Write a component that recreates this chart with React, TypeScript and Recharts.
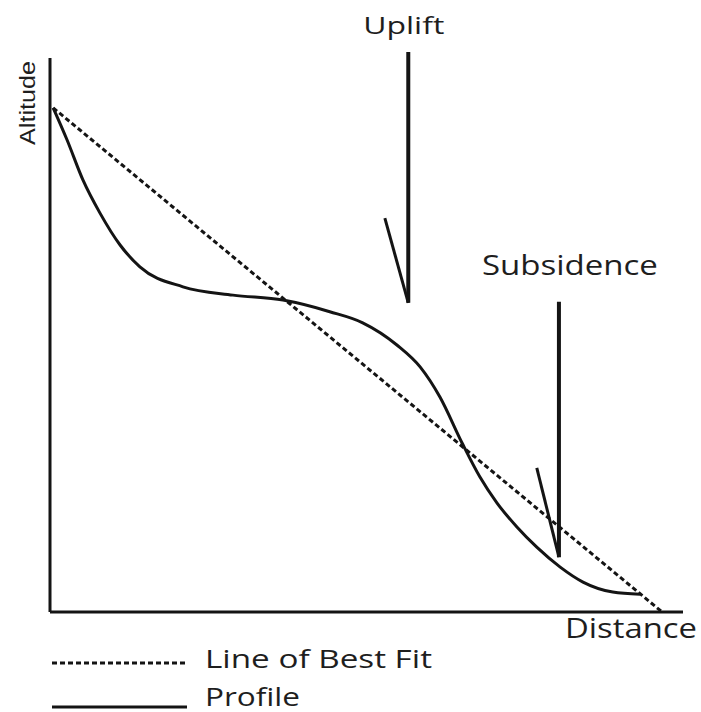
import React from 'react';
import { LineChart, Line, XAxis, YAxis, ReferenceLine, Legend } from 'recharts';

// Profile (solid curve): distance vs altitude (0-100 units)
const profileDistance = [0.5, 2.7, 5.2, 7.9, 11.1, 14.2, 21.0, 28.9, 36.8, 44.2, 49.4, 54.8, 58.5, 61.6, 65.1, 67.9, 70.6, 73.8, 76.9, 80.6, 84.2, 88.9, 93.2];
const profileAltitude = [91.0, 85.2, 78.0, 72.0, 66.2, 62.3, 58.7, 57.2, 56.3, 54.2, 52.2, 48.2, 44.2, 38.8, 30.5, 24.4, 19.7, 15.3, 11.7, 8.1, 5.4, 3.6, 3.2];

// Line of best fit (dashed straight line)
const bestFitDistance = [0.5, 96.7];
const bestFitAltitude = [91.0, 0];

// Annotation arrows (Uplift / Subsidence)
const annotationLabels = ['Uplift', 'Subsidence'];
const annotationX = [56.6, 80.4];
const annotationTop = [101.1, 56.0];
const annotationTip = [55.8, 9.9];
const annotationBarbX = [52.9, 76.9];
const annotationBarbY = [71.1, 26.0];

const seriesNames = ['Line of Best Fit', 'Profile'];
const axisTitles = ['Distance', 'Altitude'];

const profileData = profileDistance.map((x, i) => ({ x, y: profileAltitude[i] }));
const bestFitData = bestFitDistance.map((x, i) => ({ x, y: bestFitAltitude[i] }));

const INK = '#141414';
const TXT = '#1e1e1e';
const FONT = "'Open Sans', 'Noto Sans', sans-serif";

const annotationStyle = [
  { dx: -4.5, dy: -18, size: 23, len: 81 },
  { dx: 11, dy: -27, size: 28, len: 176 },
];

const makeAnnotationLabel = (i: number) => (props: any) => {
  const vb = props.viewBox || {};
  const cx = (vb.x ?? 0) + (vb.width ?? 0) / 2;
  const top = vb.y ?? 0;
  const st = annotationStyle[i];
  return (
    <text
      x={cx + st.dx}
      y={top + st.dy}
      textAnchor="middle"
      fontFamily={FONT}
      fontSize={st.size}
      fill={TXT}
      textLength={st.len}
      lengthAdjust="spacingAndGlyphs"
    >
      {annotationLabels[i]}
    </text>
  );
};

const distanceLabel = (props: any) => {
  const vb = props.viewBox || {};
  return (
    <text
      x={vb.x + vb.width + 14}
      y={vb.y + 26}
      textAnchor="end"
      fontFamily={FONT}
      fontSize={28}
      fill={TXT}
      textLength={132}
      lengthAdjust="spacingAndGlyphs"
    >
      {axisTitles[0]}
    </text>
  );
};

const altitudeLabel = (props: any) => {
  const vb = props.viewBox || {};
  const x = vb.x + vb.width - 15;
  const y = vb.y + 45;
  return (
    <text
      x={x}
      y={y}
      transform={`rotate(-90, ${x}, ${y})`}
      textAnchor="middle"
      fontFamily="'Liberation Sans', Arial, sans-serif"
      fontSize={22}
      fill={TXT}
      textLength={84}
      lengthAdjust="spacingAndGlyphs"
    >
      {axisTitles[1]}
    </text>
  );
};

const legendLineY = [21, 65];
const legendTextY = [26, 64];
const legendTextLen: Record<string, number> = { 'Line of Best Fit': 227, Profile: 95 };

const renderLegend = (props: any) => {
  const items = (props.payload || []).slice().sort(
    (a: any, b: any) => seriesNames.indexOf(a.value) - seriesNames.indexOf(b.value)
  );
  return (
    <svg width={420} height={70} style={{ display: 'block' }}>
      {items.map((entry: any, i: number) => {
        const p = entry.payload || {};
        return (
          <g key={entry.value}>
            <line
              x1={0}
              x2={135}
              y1={legendLineY[i]}
              y2={legendLineY[i]}
              stroke={INK}
              strokeWidth={p.strokeWidth ?? 3}
              strokeDasharray={p.strokeDasharray}
            />
            <text
              x={153}
              y={legendTextY[i]}
              fontFamily={FONT}
              fontSize={25}
              fill={TXT}
              textLength={legendTextLen[entry.value]}
              lengthAdjust="spacingAndGlyphs"
            >
              {entry.value}
            </text>
          </g>
        );
      })}
    </svg>
  );
};

export default function App() {
  return (
    <div
      style={{
        position: 'fixed',
        left: 0,
        top: 0,
        width: 701,
        height: 712,
        overflow: 'hidden',
        background: '#ffffff',
      }}
    >
      <LineChart width={701} height={712} margin={{ top: 58, right: 18, bottom: 70, left: 10 }}>
        <XAxis
          type="number"
          dataKey="x"
          domain={[0, 100]}
          allowDataOverflow
          tick={false}
          tickLine={false}
          height={30}
          axisLine={{ stroke: INK, strokeWidth: 3 }}
          label={distanceLabel}
        />
        <YAxis
          type="number"
          dataKey="y"
          domain={[0, 100]}
          allowDataOverflow
          tick={false}
          tickLine={false}
          width={40}
          axisLine={{ stroke: INK, strokeWidth: 3 }}
          label={altitudeLabel}
        />
        <Line
          data={bestFitData}
          dataKey="y"
          name={seriesNames[0]}
          type="linear"
          stroke={INK}
          strokeWidth={3}
          strokeDasharray="5 3"
          dot={false}
          activeDot={false}
          isAnimationActive={false}
        />
        <Line
          data={profileData}
          dataKey="y"
          name={seriesNames[1]}
          type="monotone"
          stroke={INK}
          strokeWidth={3}
          dot={false}
          activeDot={false}
          isAnimationActive={false}
        />
        {annotationLabels.map((lab, i) => (
          <ReferenceLine
            key={`v-${lab}`}
            segment={[
              { x: annotationX[i], y: annotationTop[i] },
              { x: annotationX[i], y: annotationTip[i] },
            ]}
            ifOverflow="visible"
            stroke={INK}
            strokeWidth={4}
            label={makeAnnotationLabel(i)}
          />
        ))}
        {annotationLabels.map((lab, i) => (
          <ReferenceLine
            key={`b-${lab}`}
            segment={[
              { x: annotationBarbX[i], y: annotationBarbY[i] },
              { x: annotationX[i], y: annotationTip[i] },
            ]}
            ifOverflow="visible"
            stroke={INK}
            strokeWidth={3}
          />
        ))}
        <Legend
          layout="vertical"
          align="center"
          verticalAlign="middle"
          content={renderLegend}
          wrapperStyle={{ position: 'absolute', left: 52, top: 642, width: 420, height: 70, margin: 0 }}
        />
      </LineChart>
    </div>
  );
}
